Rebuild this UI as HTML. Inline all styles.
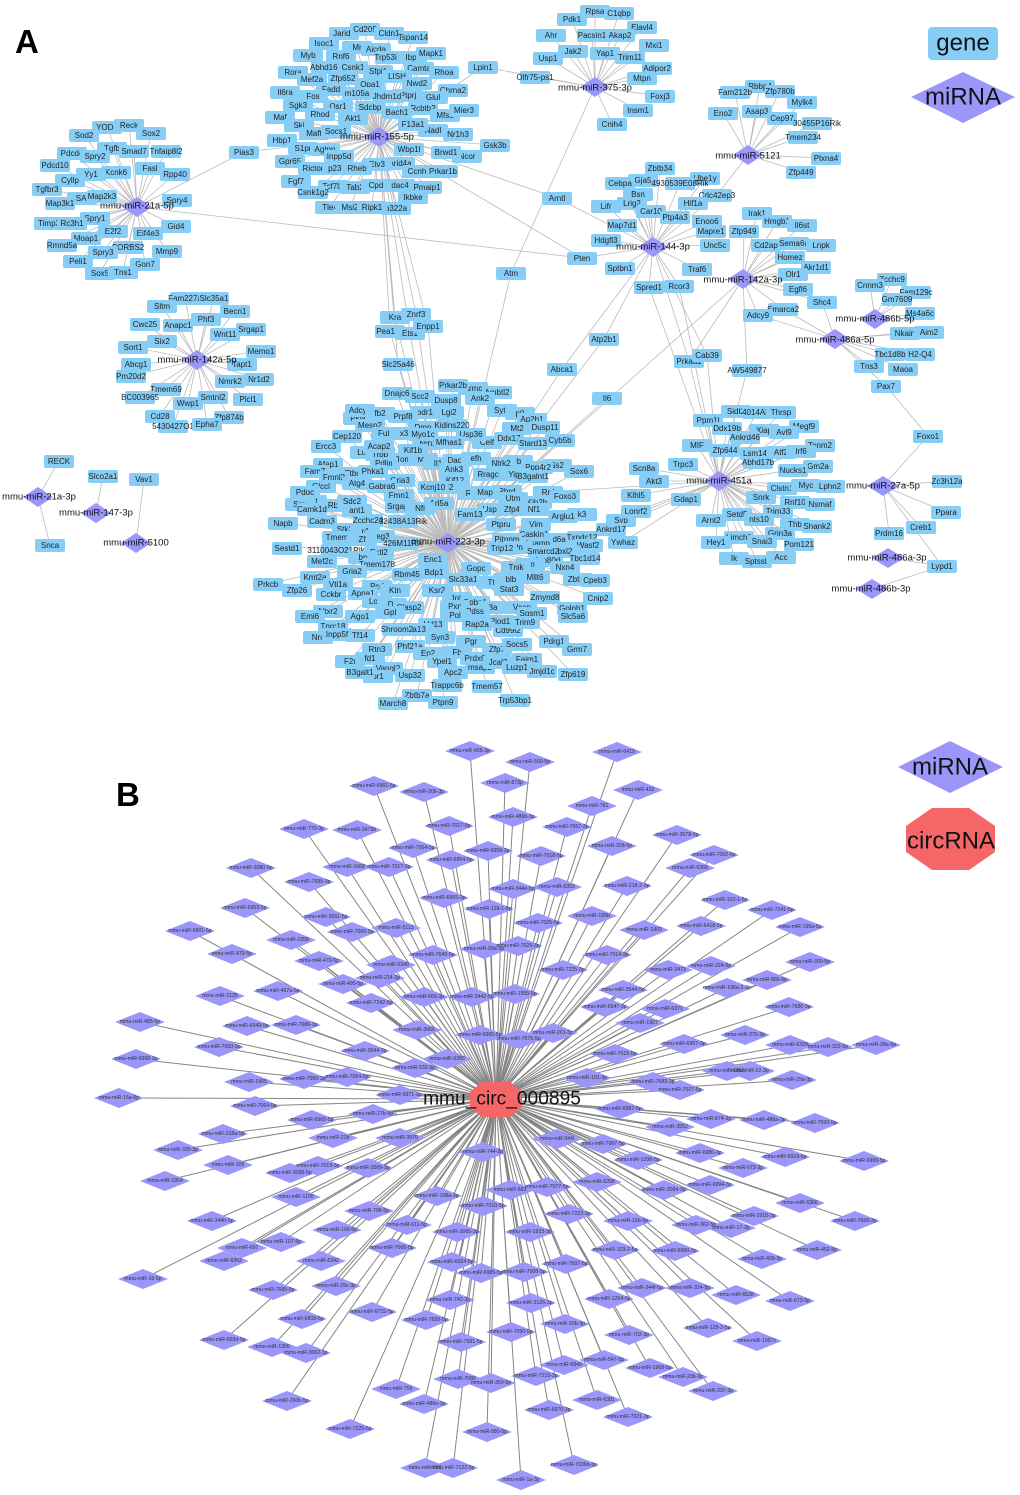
<!DOCTYPE html>
<html><head><meta charset="utf-8"><style>
html,body{margin:0;padding:0;background:#fff}
#p{position:relative;width:1020px;height:1495px;overflow:hidden;font-family:"Liberation Sans",sans-serif}
svg{position:absolute;left:0;top:0}
i{position:absolute;display:flex;justify-content:center;width:30px;height:13px;margin:-6.5px 0 0 -15px;background:#87cef7;border-radius:2px;font:normal 8px/13px "Liberation Sans",sans-serif;color:#222;white-space:nowrap}
.l{fill:none;stroke:#bbb;stroke-width:.8}
.b{fill:none;stroke:#858585;stroke-width:1;marker-start:url(#d);marker-mid:url(#d);marker-end:url(#d)}
.t text{font:5.2px "Liberation Sans",sans-serif;fill:#333;text-anchor:middle;dominant-baseline:central}
.h text{font:9.5px "Liberation Sans",sans-serif;fill:#111;text-anchor:middle;dominant-baseline:central}
</style></head><body><div id="p">
<svg width="1020" height="1495"><g class="l">
<path d="M137 207L107 127ZL129 125ZL84 135ZL151 133ZL112 148ZL134 151ZL166 151ZL72 153ZL95 156ZL55 165ZL116 172ZL150 168ZL175 174ZL91 174ZL70 180ZL47 189ZL102 196ZL82 198ZL60 203ZL177 200ZL95 218ZL49 223ZL72 223ZL176 226ZL148 233ZL86 238ZL113 231ZL62 245ZL128 247ZL167 251ZL103 252ZL78 261ZL145 264ZL100 273ZL123 272ZL244 152ZL582 258Z"/>
<path d="M197 360L185 298ZL214 298ZL162 306ZL235 311ZL206 319ZL145 324ZL178 325ZL225 334ZL251 329ZL162 341ZL133 347ZL261 351ZL242 364ZL136 364ZL131 376ZL259 379ZL230 381ZL166 389ZL140 397ZL248 399ZL188 403ZL213 397ZL160 416ZL229 417ZL173 426ZL207 424Z"/>
<path d="M38 497L59 461ZL50 545ZM96 513L103 476ZM136 543L144 479Z"/>
<path d="M379 137L344 33ZL365 29ZL389 33ZL413 37ZL324 43ZL357 47ZL376 49ZL308 55ZL341 56ZL390 57ZL412 57ZL431 53ZL293 72ZL326 67ZL353 67ZL378 71ZL419 68ZL444 72ZL312 79ZL343 78ZL397 76ZL417 83ZL331 89ZL370 84ZL453 90ZL285 92ZL313 96ZL357 93ZL387 96ZL408 95ZL433 97ZL298 105ZL338 106ZL370 107ZL423 108ZL397 112ZL464 110ZL280 117ZL320 114ZL445 115ZL353 118ZL413 124ZL299 125ZL336 131ZL314 133ZL433 130ZL458 134ZL282 140ZL303 148ZL325 149ZL409 149ZL339 156ZL495 145ZL446 152ZL467 156ZL290 161ZL377 164ZL400 163ZL313 168ZL337 168ZL357 168ZL417 171ZL443 171ZL296 181ZL333 186ZL355 187ZL376 185ZL400 185ZL427 187ZL313 192ZL413 197ZL330 207ZL350 207ZL372 207ZL396 208ZL483 67ZL244 152ZL582 258ZL557 198ZL395 317ZL416 314ZL390 331ZL410 333ZL428 326ZL398 364Z"/>
<path d="M448 543L395 317ZL416 314ZL390 331ZL410 333ZL428 326ZL398 364ZL511 273ZL604 339ZL562 369ZL607 398ZL743 279ZL453 385ZL473 388ZL497 392ZL397 393ZL420 396ZL480 398ZL446 400ZL360 410ZL380 413ZL403 416ZL425 412ZL449 412ZL502 410ZL358 418ZL520 413ZL532 419ZL452 425ZL370 425ZL545 427ZL517 428ZL423 427ZL509 438ZL347 436ZL386 433ZL404 433ZL423 434ZL471 434ZL533 443ZL560 440ZL449 442ZL487 442ZL428 443ZL326 446ZL379 446ZL413 450ZL365 452ZL380 454ZL457 460ZL476 458ZL501 463ZL518 461ZL538 467ZL557 465ZL579 471ZL328 464ZL315 471ZL355 473ZL385 463ZL407 459ZL423 459ZL438 463ZL454 469ZL488 474ZL515 474ZL533 476ZL373 471ZL334 477ZL455 480ZL357 483ZL400 480ZL321 486ZL382 486ZL433 487ZL450 487ZL305 492ZL472 493ZL485 492ZL507 491ZL548 492ZL399 495ZL513 498ZL352 501ZL312 501ZL439 503ZL565 496ZL537 502ZL300 504ZL333 505ZL400 506ZL420 508ZL312 509ZL357 510ZL492 509ZL512 509ZL534 509ZL563 516ZL582 514ZL470 514ZL283 523ZL322 521ZL368 520ZL501 524ZL536 524ZL403 521ZL347 529ZL365 531ZL337 537ZL534 534ZL380 536ZL507 539ZL582 537ZL559 539ZL588 545ZL538 543ZL362 539ZL287 548ZL336 550ZL403 543ZL502 548ZL518 547ZL543 551ZL565 551ZL379 552ZL585 558ZL433 559ZL322 561ZL548 560ZL363 557ZL516 567ZL530 564ZL565 567ZL377 564ZL476 568ZL352 571ZL315 577ZL434 572ZL407 574ZL508 579ZL535 577ZL463 579ZL578 579ZL595 580ZL338 584ZL377 586ZL437 590ZL509 589ZL491 582ZL598 598ZL297 590ZL331 594ZL363 593ZL395 590ZL545 597ZL457 598ZL475 602ZL377 601ZL392 604ZL409 607ZL572 608ZL532 613ZL360 616ZL310 616ZL455 606ZL475 611ZL493 607ZL573 616ZL522 607ZL500 621ZL525 622ZL455 615ZL390 612ZL477 624ZL508 630ZL433 624ZL333 626ZL328 611ZL337 634ZL318 637ZL360 635ZL397 629ZL418 629ZL440 637ZL554 641ZL577 649ZL517 644ZL471 641ZL377 649ZL410 646ZL497 649ZL350 661ZL370 658ZL442 661ZL428 653ZL457 652ZL475 658ZL498 662ZL527 659ZL542 671ZL517 667ZL573 674ZL360 672ZL388 668ZL378 676ZL410 675ZL453 672ZL480 667ZL487 686ZL447 685ZL417 695ZL515 700ZL443 702ZL393 703ZL268 584Z"/>
<path d="M595 87L595 11ZL619 13ZL642 27ZL572 19ZL551 35ZL592 35ZL620 35ZL654 45ZL548 58ZL573 51ZL605 53ZL630 57ZL657 68ZL535 77ZL642 78ZL660 96ZL638 110ZL612 124ZL483 67ZL511 273Z"/>
<path d="M748 155L760 86ZL735 92ZL780 91ZL802 102ZL757 111ZL782 118ZL723 113ZL817 123ZL803 137ZL826 158ZL801 172ZL717 195Z"/>
<path d="M653 247L660 168ZL643 180ZL620 183ZL680 183ZL705 178ZL638 194ZL717 195ZL606 206ZL632 203ZL651 211ZL693 203ZL675 217ZL707 221ZL622 225ZL711 231ZL606 240ZL715 245ZL557 198ZL582 258ZL620 268ZL697 269ZL649 287ZL679 286ZL604 339ZL562 369ZL707 355ZL689 361Z"/>
<path d="M743 279L757 213ZL777 221ZL802 225ZL744 231ZL766 245ZL794 243ZL821 245ZL790 257ZL816 267ZL793 274ZL798 289ZL822 302ZL783 309ZL758 315ZL747 370ZL689 361Z"/>
<path d="M875 319L892 279ZL870 285ZL916 292ZL897 299ZL920 313ZM835 339L905 333ZL929 332ZL920 354ZL890 354ZL869 366ZL903 369ZL886 386ZL822 302ZL758 315ZL783 309Z"/>
<path d="M883 486L928 436ZL947 481ZL946 512ZL921 527ZL889 533ZL942 566ZM886 386L928 436ZM888 558L942 566ZM872 589L942 566Z"/>
<path d="M719 481L736 411ZL757 412ZL781 412ZL708 420ZL804 426ZL727 428ZL764 430ZL784 432ZL745 437ZL697 445ZL725 450ZL755 453ZL781 452ZL820 445ZL801 451ZL758 462ZL683 464ZL818 466ZL793 470ZL806 485ZL830 486ZL761 497ZL782 488ZL795 502ZL820 504ZL778 511ZL737 514ZL711 520ZL795 524ZL817 526ZL759 519ZL780 533ZL739 537ZL716 542ZL762 541ZL799 544ZL734 558ZL757 561ZL781 557ZL686 499ZL654 481ZL644 468ZL636 495ZL636 511ZL621 520ZL611 529ZL623 542ZL689 361ZL707 355ZL747 370ZL649 287ZL679 286ZL548 492Z"/>
</g></svg>
<i style=left:107px;top:127px>YOD1</i><i style=left:129px;top:125px>Reck</i><i style=left:84px;top:135px>Sod2</i><i style=left:151px;top:133px>Sox2</i><i style=left:112px;top:148px>Tgfb</i><i style=left:134px;top:151px>Smad7</i><i style=left:166px;top:151px>Tnfaip8l2</i><i style=left:72px;top:153px>Pdcd4</i><i style=left:95px;top:156px>Spry2</i><i style=left:55px;top:165px>Pdcd10</i><i style=left:116px;top:172px>Kcnk6</i><i style=left:150px;top:168px>Fasl</i><i style=left:175px;top:174px>Rpp40</i><i style=left:91px;top:174px>Yy1</i><i style=left:70px;top:180px>Cyllp</i><i style=left:47px;top:189px>Tgfbr3</i><i style=left:82px;top:198px>SAl</i><i style=left:102px;top:196px>Map2k3</i><i style=left:60px;top:203px>Map3k1</i><i style=left:177px;top:200px>Spry4</i><i style=left:95px;top:218px>Spry1</i><i style=left:49px;top:223px>Timp3</i><i style=left:72px;top:223px>Rc3h1</i><i style=left:176px;top:226px>Gid4</i><i style=left:148px;top:233px>Eif4e3</i><i style=left:86px;top:238px>Moap1</i><i style=left:113px;top:231px>E2f2</i><i style=left:62px;top:245px>Rmnd5a</i><i style=left:128px;top:247px>SORBS2</i><i style=left:167px;top:251px>Mmp9</i><i style=left:103px;top:252px>Spry3</i><i style=left:78px;top:261px>Peli1</i><i style=left:145px;top:264px>Gon7</i><i style=left:100px;top:273px>Sox5</i><i style=left:123px;top:272px>Tns1</i><i style=left:244px;top:152px>Pias3</i>
<i style=left:185px;top:298px>Fam227a</i><i style=left:214px;top:298px>Slc35a1</i><i style=left:162px;top:306px>Sltm</i><i style=left:235px;top:311px>Becn1</i><i style=left:206px;top:319px>Phf3</i><i style=left:145px;top:324px>Cwc25</i><i style=left:178px;top:325px>Anapc1</i><i style=left:225px;top:334px>Wnt11</i><i style=left:251px;top:329px>Srgap1</i><i style=left:162px;top:341px>Six2</i><i style=left:133px;top:347px>Sort1</i><i style=left:261px;top:351px>Memo1</i><i style=left:242px;top:364px>Tapt1</i><i style=left:136px;top:364px>Abcg1</i><i style=left:131px;top:376px>Pm20d2</i><i style=left:259px;top:379px>Nr1d2</i><i style=left:230px;top:381px>Nmrk2</i><i style=left:166px;top:389px>Tmem69</i><i style=left:140px;top:397px>BC003965</i><i style=left:248px;top:399px>Plcl1</i><i style=left:188px;top:403px>Wwp1</i><i style=left:213px;top:397px>Smtnl2</i><i style=left:160px;top:416px>Cd28</i><i style=left:229px;top:417px>Zfp874b</i><i style=left:173px;top:426px>5430427O1</i><i style=left:207px;top:424px>Epha7</i>
<i style=left:59px;top:461px>RECK</i><i style=left:103px;top:476px>Slco2a1</i><i style=left:144px;top:479px>Vav1</i><i style=left:50px;top:545px>Snca</i>
<i style=left:344px;top:33px>Jarid2</i><i style=left:365px;top:29px>Cd209</i><i style=left:389px;top:33px>Cldn1</i><i style=left:413px;top:37px>Tspan14</i><i style=left:324px;top:43px>Isoc1</i><i style=left:357px;top:47px>Mr</i><i style=left:376px;top:49px>Aicda</i><i style=left:308px;top:55px>Myb</i><i style=left:341px;top:56px>Rnf6</i><i style=left:390px;top:57px>Trp53inp</i><i style=left:412px;top:57px>Ibpl</i><i style=left:431px;top:53px>Mapk1</i><i style=left:293px;top:72px>Rora</i><i style=left:326px;top:67px>Abhd16a</i><i style=left:353px;top:67px>Csnk1</i><i style=left:378px;top:71px>Sfpi1</i><i style=left:419px;top:68px>Camta</i><i style=left:444px;top:72px>Rhoa</i><i style=left:312px;top:79px>Mef2a</i><i style=left:343px;top:78px>Zfp652</i><i style=left:397px;top:76px>LISH</i><i style=left:417px;top:83px>Nwd2</i><i style=left:453px;top:90px>Chrna2</i><i style=left:331px;top:89px>Fadd</i><i style=left:370px;top:84px>Opa1</i><i style=left:285px;top:92px>Il6ra</i><i style=left:313px;top:96px>Fos</i><i style=left:357px;top:93px>m105a</i><i style=left:408px;top:95px>Ptprj</i><i style=left:387px;top:96px>Jhdm1d</i><i style=left:433px;top:97px>Glul</i><i style=left:298px;top:105px>Sgk3</i><i style=left:338px;top:106px>Osr1</i><i style=left:370px;top:107px>Sdcbp</i><i style=left:423px;top:108px>Rcbtb2</i><i style=left:397px;top:112px>Bach1</i><i style=left:445px;top:115px>Mfsd</i><i style=left:464px;top:110px>Mier3</i><i style=left:280px;top:117px>Maf</i><i style=left:320px;top:114px>Rhod</i><i style=left:353px;top:118px>Akt1</i><i style=left:433px;top:130px>Nadl</i><i style=left:413px;top:124px>F13a1</i><i style=left:299px;top:125px>Ski</i><i style=left:314px;top:133px>Maft</i><i style=left:336px;top:131px>Socs1</i><i style=left:458px;top:134px>Nr1h3</i><i style=left:282px;top:140px>Hbp1</i><i style=left:303px;top:148px>S1pr</i><i style=left:325px;top:149px>Agtpn</i><i style=left:409px;top:149px>Wbp1l</i><i style=left:339px;top:156px>Inpp5d</i><i style=left:495px;top:145px>Gsk3b</i><i style=left:467px;top:156px>Ncor</i><i style=left:446px;top:152px>Brwd1</i><i style=left:290px;top:161px>Gpr65</i><i style=left:400px;top:163px>Arid4a</i><i style=left:377px;top:164px>Etv3</i><i style=left:313px;top:168px>Rictor</i><i style=left:337px;top:168px>p236</i><i style=left:357px;top:168px>Rheb</i><i style=left:417px;top:171px>Ccnh</i><i style=left:443px;top:171px>Prkar1b</i><i style=left:296px;top:181px>Fgf7</i><i style=left:333px;top:186px>Tcf7l2</i><i style=left:355px;top:187px>Tab2</i><i style=left:376px;top:185px>Cpd</i><i style=left:400px;top:185px>dac4</i><i style=left:427px;top:187px>Pmaip1</i><i style=left:313px;top:192px>Csnk1g2</i><i style=left:413px;top:197px>Ikbke</i><i style=left:330px;top:207px>Tle4</i><i style=left:350px;top:207px>Msi2</i><i style=left:396px;top:208px>p322a</i><i style=left:372px;top:207px>Ripk1</i><i style=left:483px;top:67px>Lpin1</i>
<i style=left:395px;top:317px>Kra</i><i style=left:416px;top:314px>Znrf3</i><i style=left:390px;top:331px>Pea15a</i><i style=left:410px;top:333px>Ets1</i><i style=left:428px;top:326px>Enpp1</i><i style=left:398px;top:364px>Slc25a46</i>
<i style=left:595px;top:11px>Rpsa</i><i style=left:619px;top:13px>C1qbp</i><i style=left:642px;top:27px>Elavl4</i><i style=left:572px;top:19px>Pdk1</i><i style=left:551px;top:35px>Ahr</i><i style=left:592px;top:35px>Pacsin1</i><i style=left:620px;top:35px>Akap2</i><i style=left:654px;top:45px>Mxi1</i><i style=left:548px;top:58px>Usp1</i><i style=left:573px;top:51px>Jak2</i><i style=left:605px;top:53px>Yap1</i><i style=left:630px;top:57px>Trim11</i><i style=left:657px;top:68px>Adipor2</i><i style=left:535px;top:77px>Olfr75-ps1</i><i style=left:642px;top:78px>Mtpn</i><i style=left:660px;top:96px>Foxj3</i><i style=left:638px;top:110px>Insm1</i><i style=left:612px;top:124px>Cnih4</i>
<i style=left:760px;top:86px>Rbbp4</i><i style=left:735px;top:92px>Fam212b</i><i style=left:780px;top:91px>Zfp780b</i><i style=left:802px;top:102px>Mylk4</i><i style=left:757px;top:111px>Asap3</i><i style=left:782px;top:118px>Cep97</i><i style=left:723px;top:113px>Eno2</i><i style=left:817px;top:123px>30455P16Rik</i><i style=left:803px;top:137px>Tmem234</i><i style=left:826px;top:158px>Plxna4</i><i style=left:801px;top:172px>Zfp449</i>
<i style=left:660px;top:168px>Zbtb34</i><i style=left:643px;top:180px>Gja5</i><i style=left:620px;top:183px>Cebpa</i><i style=left:705px;top:178px>Ube1y</i><i style=left:680px;top:183px>4930539E08Rik</i><i style=left:638px;top:194px>Bsn</i><i style=left:717px;top:195px>Cdc42ep3</i><i style=left:606px;top:206px>Lifr</i><i style=left:632px;top:203px>Lrig2</i><i style=left:651px;top:211px>Car10</i><i style=left:693px;top:203px>Hif1a</i><i style=left:675px;top:217px>Ptp4a3</i><i style=left:707px;top:221px>Enoo6</i><i style=left:622px;top:225px>Map7d1</i><i style=left:711px;top:231px>Mapre1</i><i style=left:606px;top:240px>Hdgfl3</i><i style=left:715px;top:245px>Unc5c</i><i style=left:557px;top:198px>Arntl</i><i style=left:582px;top:258px>Pten</i><i style=left:620px;top:268px>Sptbn1</i><i style=left:697px;top:269px>Traf6</i><i style=left:649px;top:287px>Spred1</i><i style=left:679px;top:286px>Rcor3</i><i style=left:511px;top:273px>Atm</i>
<i style=left:757px;top:213px>Irak1</i><i style=left:777px;top:221px>Hmgb1</i><i style=left:802px;top:225px>Il6st</i><i style=left:744px;top:231px>Zfp949</i><i style=left:766px;top:245px>Cd2ap</i><i style=left:794px;top:243px>Sema6a</i><i style=left:821px;top:245px>Lnpk</i><i style=left:790px;top:257px>Homez</i><i style=left:816px;top:267px>Akr1d1</i><i style=left:793px;top:274px>Olr1</i><i style=left:798px;top:289px>Egfl6</i><i style=left:822px;top:302px>Shc4</i><i style=left:783px;top:309px>Smarca2</i><i style=left:758px;top:315px>Adcy9</i><i style=left:747px;top:370px>AW549877</i>
<i style=left:892px;top:279px>Zcchc9</i><i style=left:870px;top:285px>Cnnm3</i><i style=left:916px;top:292px>Fam129c</i><i style=left:897px;top:299px>Gm7609</i><i style=left:920px;top:313px>Ms4a6c</i><i style=left:905px;top:333px>Nkain</i><i style=left:929px;top:332px>Aim2</i><i style=left:920px;top:354px>H2-Q4</i><i style=left:890px;top:354px>Tbc1d8b</i><i style=left:869px;top:366px>Tns3</i><i style=left:903px;top:369px>Maoa</i><i style=left:886px;top:386px>Pax7</i>
<i style=left:928px;top:436px>Foxo1</i><i style=left:947px;top:481px>Zc3h12a</i><i style=left:946px;top:512px>Ppara</i><i style=left:921px;top:527px>Creb1</i><i style=left:889px;top:533px>Prdm16</i><i style=left:942px;top:566px>Lypd1</i>
<i style=left:736px;top:411px>Sidt2</i><i style=left:757px;top:412px>4014Abt</i><i style=left:781px;top:412px>Thrsp</i><i style=left:708px;top:420px>Ppm1l</i><i style=left:804px;top:426px>Megf9</i><i style=left:727px;top:428px>Ddx19b</i><i style=left:764px;top:430px>Xiap</i><i style=left:784px;top:432px>Avl9</i><i style=left:745px;top:437px>Ankrd46</i><i style=left:697px;top:445px>MIF</i><i style=left:725px;top:450px>Zfp644</i><i style=left:755px;top:453px>Lsm14</i><i style=left:781px;top:452px>Atf2</i><i style=left:820px;top:445px>Tenm2</i><i style=left:801px;top:451px>Irf6</i><i style=left:758px;top:462px>Abhd17b</i><i style=left:683px;top:464px>Trpc3</i><i style=left:818px;top:466px>Gm2a</i><i style=left:793px;top:470px>Nucks1</i><i style=left:782px;top:488px>Clstn1</i><i style=left:806px;top:485px>Myc</i><i style=left:830px;top:486px>Lphn2</i><i style=left:761px;top:497px>Snrk</i><i style=left:795px;top:502px>Rnf10</i><i style=left:820px;top:504px>Nsmaf</i><i style=left:778px;top:511px>Trim33</i><i style=left:737px;top:514px>Setd5</i><i style=left:711px;top:520px>Arnt2</i><i style=left:759px;top:519px>nts10</i><i style=left:795px;top:524px>Thb</i><i style=left:817px;top:526px>Shank2</i><i style=left:780px;top:533px>Grin3a</i><i style=left:739px;top:537px>Limch1</i><i style=left:716px;top:542px>Hey1</i><i style=left:762px;top:541px>Snai3</i><i style=left:799px;top:544px>Pom121</i><i style=left:734px;top:558px>Ik</i><i style=left:757px;top:561px>Sptssb</i><i style=left:781px;top:557px>Acc</i><i style=left:686px;top:499px>Gdap1</i><i style=left:654px;top:481px>Akt3</i><i style=left:644px;top:468px>Scn8a</i><i style=left:636px;top:495px>Klhl5</i><i style=left:636px;top:511px>Lonrf2</i><i style=left:621px;top:520px>Syp</i><i style=left:611px;top:529px>Ankrd17</i><i style=left:623px;top:542px>Ywhaz</i><i style=left:689px;top:361px>Prkaa1</i><i style=left:707px;top:355px>Cab39</i><i style=left:562px;top:369px>Abca1</i><i style=left:604px;top:339px>Atp2b1</i><i style=left:607px;top:398px>Il6</i>
<i style=left:473px;top:388px>Armc</i><i style=left:497px;top:392px>Ambtl2</i><i style=left:453px;top:385px>Prkar2b</i><i style=left:420px;top:396px>Scc2</i><i style=left:397px;top:393px>Dnajc6</i><i style=left:480px;top:398px>Ank2</i><i style=left:446px;top:400px>Dusp8</i><i style=left:358px;top:418px>Pkia</i><i style=left:360px;top:410px>Adcy1</i><i style=left:380px;top:413px>fb2</i><i style=left:425px;top:412px>odr1</i><i style=left:403px;top:416px>Prpf8</i><i style=left:449px;top:412px>Lgi2</i><i style=left:502px;top:410px>Syt4</i><i style=left:520px;top:413px>p0</i><i style=left:532px;top:419px>Ap2b1</i><i style=left:423px;top:427px>Dmn</i><i style=left:370px;top:425px>Mesp2</i><i style=left:452px;top:425px>Kidins220</i><i style=left:517px;top:428px>Mt2</i><i style=left:545px;top:427px>Dusp11</i><i style=left:347px;top:436px>Cep120</i><i style=left:428px;top:443px>Nrn1</i><i style=left:386px;top:433px>Fut9</i><i style=left:404px;top:433px>x3</i><i style=left:423px;top:434px>Myo1c</i><i style=left:487px;top:442px>Celf</i><i style=left:471px;top:434px>Usp36</i><i style=left:509px;top:438px>Ddx17</i><i style=left:560px;top:440px>Cyb5b</i><i style=left:533px;top:443px>Stard13</i><i style=left:449px;top:442px>Mfhas1</i><i style=left:326px;top:446px>Ercc3</i><i style=left:365px;top:452px>Lum</i><i style=left:380px;top:454px>Trpp</i><i style=left:379px;top:446px>Acap2</i><i style=left:385px;top:463px>Pdlim</i><i style=left:407px;top:459px>Tomm</i><i style=left:423px;top:459px>Ma</i><i style=left:413px;top:450px>Kif1b</i><i style=left:438px;top:463px>Il1</i><i style=left:457px;top:460px>Dao1</i><i style=left:476px;top:458px>efh</i><i style=left:518px;top:461px>Ib</i><i style=left:501px;top:463px>Ntrk2</i><i style=left:557px;top:465px>Ss2</i><i style=left:538px;top:467px>Ppp4r2</i><i style=left:579px;top:471px>Sox6</i><i style=left:328px;top:464px>Afap1</i><i style=left:315px;top:471px>Fam7</i><i style=left:355px;top:473px>Ttbd2</i><i style=left:373px;top:471px>Phka1</i><i style=left:455px;top:480px>Kif12</i><i style=left:454px;top:469px>Ank3</i><i style=left:488px;top:474px>Rragc</i><i style=left:515px;top:474px>Yipf</i><i style=left:533px;top:476px>B3galnt1</i><i style=left:334px;top:477px>Fmnl2</i><i style=left:321px;top:486px>Glccl</i><i style=left:357px;top:483px>Atg4</i><i style=left:400px;top:480px>Gria3</i><i style=left:382px;top:486px>Gabra6</i><i style=left:450px;top:487px>I2</i><i style=left:433px;top:487px>Kcnj10</i><i style=left:305px;top:492px>Pdgc</i><i style=left:472px;top:493px>Rnf</i><i style=left:507px;top:491px>Pbrd</i><i style=left:485px;top:492px>Map</i><i style=left:548px;top:492px>Rnf</i><i style=left:399px;top:495px>Fmn1</i><i style=left:537px;top:502px>Kih2b</i><i style=left:513px;top:498px>Utm</i><i style=left:312px;top:501px>Itot</i><i style=left:300px;top:504px>Snx</i><i style=left:333px;top:505px>Rb</i><i style=left:352px;top:501px>Sdc2</i><i style=left:565px;top:496px>Foxo3</i><i style=left:439px;top:503px>Arl5a</i><i style=left:357px;top:510px>ant1</i><i style=left:312px;top:509px>Camk1d</i><i style=left:400px;top:506px>Srgap2</i><i style=left:420px;top:508px>Nfi</i><i style=left:492px;top:509px>Usp4</i><i style=left:512px;top:509px>Zfp4</i><i style=left:534px;top:509px>Nf1</i><i style=left:582px;top:514px>k3</i><i style=left:563px;top:516px>Arglu1</i><i style=left:470px;top:514px>Fam13</i><i style=left:283px;top:523px>Napb</i><i style=left:322px;top:521px>Cadm3</i><i style=left:368px;top:520px>Zcchc24</i><i style=left:403px;top:521px>32438A13Rik</i><i style=left:501px;top:524px>Ptpru</i><i style=left:536px;top:524px>Vim</i><i style=left:347px;top:529px>Stk39</i><i style=left:365px;top:531px>r4</i><i style=left:337px;top:537px>Tmem</i><i style=left:534px;top:534px>Caskin1</i><i style=left:380px;top:536px>Reg3</i><i style=left:507px;top:539px>Pitpnm</i><i style=left:559px;top:539px>d6a</i><i style=left:582px;top:537px>Txndc12</i><i style=left:538px;top:543px>Lsamp</i><i style=left:588px;top:545px>Wasf2</i><i style=left:362px;top:539px>Zf</i><i style=left:287px;top:548px>Sestd1</i><i style=left:403px;top:543px>426M11Rik</i><i style=left:336px;top:550px>3110043O21Rik</i><i style=left:518px;top:547px>Pn</i><i style=left:502px;top:548px>Trip12</i><i style=left:565px;top:551px>bxl2</i><i style=left:543px;top:551px>Smarcd2</i><i style=left:379px;top:552px>Extl2</i><i style=left:363px;top:557px>bp</i><i style=left:585px;top:558px>Tbc1d14</i><i style=left:548px;top:560px>Ino80d</i><i style=left:322px;top:561px>Mef2c</i><i style=left:433px;top:559px>Enc1</i><i style=left:530px;top:564px>Tn</i><i style=left:516px;top:567px>Tnik</i><i style=left:565px;top:567px>Nxn4</i><i style=left:377px;top:564px>Tmem178</i><i style=left:352px;top:571px>Gria2</i><i style=left:476px;top:568px>Gopc</i><i style=left:434px;top:572px>Bdp1</i><i style=left:315px;top:577px>Kmt2a</i><i style=left:407px;top:574px>Rbm45</i><i style=left:535px;top:577px>Mllt6</i><i style=left:508px;top:579px>Cblb</i><i style=left:463px;top:579px>Slc33a1</i><i style=left:578px;top:579px>Zbtb3</i><i style=left:595px;top:580px>Cpeb3</i><i style=left:268px;top:584px>Prkcb</i><i style=left:491px;top:582px>Tt</i><i style=left:338px;top:584px>Vti1a</i><i style=left:377px;top:586px>Pcd</i><i style=left:437px;top:590px>Ksr2</i><i style=left:395px;top:590px>Ktn</i><i style=left:509px;top:589px>Stat3</i><i style=left:297px;top:590px>Zfp26</i><i style=left:363px;top:593px>Apna1</i><i style=left:331px;top:594px>Cckbr</i><i style=left:598px;top:598px>Cnip2</i><i style=left:545px;top:597px>Zmynd8</i><i style=left:457px;top:598px>Jph</i><i style=left:377px;top:601px>Lonr</i><i style=left:392px;top:604px>Dr</i><i style=left:475px;top:602px>Gpbp1</i><i style=left:455px;top:606px>Pxn</i><i style=left:493px;top:607px>8a</i><i style=left:522px;top:607px>Vcan</i><i style=left:572px;top:608px>Golph1</i><i style=left:409px;top:607px>Clasp2</i><i style=left:328px;top:611px>Ntxr2</i><i style=left:390px;top:612px>Gpl</i><i style=left:475px;top:611px>Pdss</i><i style=left:532px;top:613px>Sgsm1</i><i style=left:455px;top:615px>Pol</i><i style=left:360px;top:616px>Ago1</i><i style=left:310px;top:616px>Emi6</i><i style=left:573px;top:616px>Slc5a6</i><i style=left:508px;top:630px>Cd99l2</i><i style=left:500px;top:621px>Plod1</i><i style=left:525px;top:622px>Trim9</i><i style=left:477px;top:624px>Rap2a</i><i style=left:433px;top:624px>Hd13</i><i style=left:333px;top:626px>Tnrc18</i><i style=left:360px;top:635px>Tf14</i><i style=left:318px;top:637px>Nrc</i><i style=left:337px;top:634px>Inpp5f</i><i style=left:418px;top:629px>Ia13</i><i style=left:397px;top:629px>Shroom2</i><i style=left:440px;top:637px>Syn3</i><i style=left:554px;top:641px>Pdrg1</i><i style=left:577px;top:649px>Grm7</i><i style=left:497px;top:649px>Zfp7</i><i style=left:517px;top:644px>Socs5</i><i style=left:471px;top:641px>Pgr</i><i style=left:377px;top:649px>Rtn3</i><i style=left:410px;top:646px>Phf21a</i><i style=left:428px;top:653px>Ep2</i><i style=left:457px;top:652px>Fb</i><i style=left:350px;top:661px>F2r</i><i style=left:370px;top:658px>fd1</i><i style=left:442px;top:661px>Ypel1</i><i style=left:527px;top:659px>Faim1</i><i style=left:480px;top:667px>msap2</i><i style=left:475px;top:658px>Prdx6</i><i style=left:498px;top:662px>Jcal3</i><i style=left:517px;top:667px>Luzp1</i><i style=left:542px;top:671px>Jmjd1c</i><i style=left:573px;top:674px>Zfp619</i><i style=left:388px;top:668px>Vangl2</i><i style=left:378px;top:676px>or1</i><i style=left:360px;top:672px>B3galt1</i><i style=left:410px;top:675px>Usp32</i><i style=left:453px;top:672px>Apc2</i><i style=left:487px;top:686px>Tmem57</i><i style=left:447px;top:685px>Trappc6b</i><i style=left:417px;top:695px>Zbtb7a</i><i style=left:515px;top:700px>Trp53bp1</i><i style=left:443px;top:702px>Ptpn9</i><i style=left:393px;top:703px>March8</i>
<svg width="1020" height="1495"><defs><marker id="d" markerUnits="userSpaceOnUse" markerWidth="50" markerHeight="20" refX="25" refY="10" overflow="visible"><path d="M0 10L25 0L50 10L25 20z" fill="#9a96fa" stroke="none"/></marker></defs>
<g fill="#9a96fa"><path d="M122 207L137 197L152 207L137 217zM364 137L379 127L394 137L379 147zM580 87L595 77L610 87L595 97zM733 155L748 145L763 155L748 165zM638 247L653 237L668 247L653 257zM728 279L743 269L758 279L743 289zM860 319L875 309L890 319L875 329zM820 339L835 329L850 339L835 349zM182 360L197 350L212 360L197 370zM704 481L719 471L734 481L719 491zM867 486L883 476L899 486L883 496zM433 543L448 533L463 543L448 553zM23 497L38 487L53 497L38 507zM81 513L96 503L111 513L96 523zM121 543L136 533L151 543L136 553zM872 558L888 548L904 558L888 568zM856 589L872 579L888 589L872 599z"/></g>
<g class="h"><text x="137" y="206">mmu-miR-21a-5p</text><text x="377" y="137">mmu-miR-155-5p</text><text x="595" y="88">mmu-miR-375-3p</text><text x="748" y="156">mmu-miR-5121</text><text x="653" y="247">mmu-miR-144-3p</text><text x="743" y="280">mmu-miR-142a-3p</text><text x="875" y="319">mmu-miR-486b-5p</text><text x="835" y="340">mmu-miR-486a-5p</text><text x="197" y="360">mmu-miR-142a-5p</text><text x="719" y="481">mmu-miR-451a</text><text x="883" y="486">mmu-miR-27a-5p</text><text x="887" y="558">mmu-miR-486a-3p</text><text x="871" y="589">mmu-miR-486b-3p</text><text x="448" y="542">mmu-miR-223-3p</text><text x="39" y="497">mmu-miR-21a-3p</text><text x="96" y="513">mmu-miR-147-3p</text><text x="136" y="543">mmu-miR-5100</text></g>
<path class="b" d="M496 1099L470 751ZL617 752ZL530 762ZL505 783ZL638 790ZL374 786ZL424 792ZL592 806ZL513 817ZL449 826ZL567 827ZL304 829ZL357 830ZL677 835ZL612 846ZL413 848ZL488 851ZL541 856ZL714 855ZL251 868ZL347 867ZL389 867ZL451 860ZL557 887ZL513 889ZL627 886ZL690 868ZL309 882ZL444 898ZL489 909ZL725 900ZL772 910ZL326 917ZL245 908ZL352 932ZL396 928ZL538 923ZL592 916ZL644 930ZL701 926ZL800 927ZL190 931ZL291 940ZL232 954ZL319 961ZL391 965ZL433 955ZL484 949ZL518 946ZL607 955ZL563 970ZL668 970ZL711 966ZL810 962ZL767 980ZL343 984ZL380 978ZL623 990ZL727 988ZL278 991ZL220 996ZL371 1003ZL424 997ZL472 997ZL515 994ZL665 1009ZL605 1007ZL789 1007ZL247 1026ZL296 1025ZL140 1022ZL640 1023ZL745 1035ZL417 1030ZL480 1035ZL519 1039ZL553 1033ZL828 1047ZL790 1045ZL876 1045ZL684 1044ZL219 1047ZL365 1051ZL615 1054ZL136 1059ZL447 1059ZL415 1068ZL587 1078ZL727 1071ZL750 1071ZL347 1077ZL304 1079ZL249 1082ZL653 1082ZL792 1080ZL680 1090ZL400 1095ZL119 1098ZL620 1109ZL711 1119ZL764 1120ZL815 1123ZL255 1106ZL373 1114ZL312 1120ZL223 1134ZL333 1138ZL400 1138ZL557 1139ZL670 1127ZL603 1144ZL785 1157ZL178 1150ZL228 1165ZL638 1160ZL700 1153ZL483 1152ZL318 1166ZL368 1168ZL743 1168ZL864 1161ZL290 1173ZL165 1181ZL597 1182ZL547 1187ZL510 1190ZL710 1185ZL664 1190ZL437 1196ZL296 1197ZL800 1203ZL483 1206ZL569 1214ZL628 1221ZL754 1216ZL855 1221ZL369 1211ZL407 1225ZL212 1221ZL696 1225ZL530 1232ZL457 1232ZL337 1230ZL731 1228ZL817 1250ZL281 1242ZL242 1248ZL392 1248ZL452 1262ZL615 1250ZL675 1251ZL762 1259ZL224 1261ZL321 1261ZL566 1264ZL336 1286ZL481 1273ZL524 1272ZL143 1279ZL642 1288ZL690 1288ZL736 1295ZL790 1301ZL273 1290ZL450 1300ZL531 1303ZL609 1299ZL708 1328ZL302 1319ZL372 1312ZL426 1320ZL565 1324ZL757 1341ZL629 1335ZL511 1332ZL224 1340ZL272 1347ZL461 1342ZL306 1353ZL650 1368ZL564 1365ZL604 1360ZL683 1377ZL536 1376ZL458 1379ZL491 1383ZL396 1389ZL713 1391ZL287 1401ZL424 1404ZL597 1400ZL549 1410ZL628 1417ZL350 1429ZL487 1432ZL425 1468ZL453 1468ZL574 1465ZL521 1480Z"/>
<path d="M482 1082H510L522 1092V1107L510 1117H482L470 1107V1092Z" fill="#f76666"/>
<g class="t">
<text x="470" y="751">mmu-miR-666-3p</text><text x="617" y="752">mmu-miR-6419</text><text x="530" y="762">mmu-miR-500-5p</text><text x="505" y="783">mmu-miR-873p</text><text x="638" y="790">mmu-miR-432</text><text x="374" y="786">mmu-miR-6961-5p</text><text x="424" y="792">mmu-miR-206-3p</text><text x="592" y="806">mmu-miR-761</text><text x="513" y="817">mmu-miR-486b-3p</text><text x="449" y="826">mmu-miR-7017-5p</text><text x="567" y="827">mmu-miR-7657-3p</text><text x="304" y="829">mmu-miR-770-3p</text><text x="357" y="830">mmu-miR-3473b</text><text x="677" y="835">mmu-miR-3078-5p</text><text x="612" y="846">mmu-miR-328-5p</text><text x="413" y="848">mmu-miR-7064-5p</text><text x="488" y="851">mmu-miR-6958-3p</text><text x="541" y="856">mmu-miR-7018-5p</text><text x="714" y="855">mmu-miR-7002-5p</text><text x="251" y="868">mmu-miR-3080-5p</text><text x="347" y="867">mmu-miR-1668</text><text x="389" y="867">mmu-miR-7017-3p</text><text x="451" y="860">mmu-miR-6954-5p</text><text x="557" y="887">mmu-miR-6353</text><text x="513" y="889">mmu-miR-344e-5p</text><text x="627" y="886">mmu-miR-218-2-3p</text><text x="690" y="868">mmu-miR-6369</text><text x="309" y="882">mmu-miR-7685-3p</text><text x="444" y="898">mmu-miR-6965-3p</text><text x="489" y="909">mmu-miR-128-1-5p</text><text x="725" y="900">mmu-miR-103-1-5p</text><text x="772" y="910">mmu-miR-7241-5p</text><text x="326" y="917">mmu-miR-3061-5p</text><text x="245" y="908">mmu-miR-6953-5p</text><text x="352" y="932">mmu-miR-7000-5p</text><text x="396" y="928">mmu-miR-5113</text><text x="538" y="923">mmu-miR-7025-5p</text><text x="592" y="916">mmu-miR-195b</text><text x="644" y="930">mmu-miR-1903</text><text x="701" y="926">mmu-miR-6418-5p</text><text x="800" y="927">mmu-miR-195a-5p</text><text x="190" y="931">mmu-miR-6901-5p</text><text x="291" y="940">mmu-miR-1958</text><text x="232" y="954">mmu-miR-879-5p</text><text x="319" y="961">mmu-miR-470-5p</text><text x="391" y="965">mmu-miR-6349</text><text x="433" y="955">mmu-miR-7649-5p</text><text x="484" y="949">mmu-miR-99a-5p</text><text x="518" y="946">mmu-miR-7029-3p</text><text x="607" y="955">mmu-miR-7014-3p</text><text x="563" y="970">mmu-miR-7225-3p</text><text x="668" y="970">mmu-miR-3473</text><text x="711" y="966">mmu-miR-224-5p</text><text x="810" y="962">mmu-miR-300-5p</text><text x="767" y="980">mmu-miR-886-5p</text><text x="343" y="984">mmu-miR-490-5p</text><text x="380" y="978">mmu-miR-214-3p</text><text x="623" y="990">mmu-miR-3544-5p</text><text x="727" y="988">mmu-miR-196a-2-3p</text><text x="278" y="991">mmu-miR-467a-5p</text><text x="220" y="996">mmu-miR-2135</text><text x="371" y="1003">mmu-miR-7242-5p</text><text x="424" y="997">mmu-miR-669-3p</text><text x="472" y="997">mmu-miR-3442-5p</text><text x="515" y="994">mmu-miR-1955-5p</text><text x="665" y="1009">mmu-miR-6371</text><text x="605" y="1007">mmu-miR-6947-3p</text><text x="789" y="1007">mmu-miR-7680-3p</text><text x="247" y="1026">mmu-miR-6949-5p</text><text x="296" y="1025">mmu-miR-7686-3p</text><text x="140" y="1022">mmu-miR-485-5p</text><text x="640" y="1023">mmu-miR-1907</text><text x="745" y="1035">mmu-miR-370-3p</text><text x="417" y="1030">mmu-miR-3966</text><text x="480" y="1035">mmu-miR-6965-5p</text><text x="519" y="1039">mmu-miR-7676-5p</text><text x="553" y="1033">mmu-miR-201-5p</text><text x="828" y="1047">mmu-miR-322-5p</text><text x="790" y="1045">mmu-miR-6339</text><text x="876" y="1045">mmu-miR-28a-5p</text><text x="684" y="1044">mmu-miR-6957-3p</text><text x="219" y="1047">mmu-miR-7650-3p</text><text x="365" y="1051">mmu-miR-3544-3p</text><text x="615" y="1054">mmu-miR-7015-5p</text><text x="136" y="1059">mmu-miR-6998-3p</text><text x="447" y="1059">mmu-miR-6386</text><text x="415" y="1068">mmu-miR-532-5p</text><text x="587" y="1078">mmu-miR-191-3p</text><text x="727" y="1071">mmu-miR-1956</text><text x="750" y="1071">mmu-miR-22-3p</text><text x="347" y="1077">mmu-miR-7054-5p</text><text x="304" y="1079">mmu-miR-7050-3p</text><text x="249" y="1082">mmu-miR-1905</text><text x="653" y="1082">mmu-miR-7683-3p</text><text x="792" y="1080">mmu-miR-29a-3p</text><text x="680" y="1090">mmu-miR-7027-5p</text><text x="400" y="1095">mmu-miR-6971-3p</text><text x="119" y="1098">mmu-miR-15a-5p</text><text x="620" y="1109">mmu-miR-6987-5p</text><text x="711" y="1119">mmu-miR-874-3p</text><text x="764" y="1120">mmu-miR-486a-3p</text><text x="815" y="1123">mmu-miR-7693-5p</text><text x="255" y="1106">mmu-miR-7064-5p</text><text x="373" y="1114">mmu-miR-27b-5p</text><text x="312" y="1120">mmu-miR-6900-5p</text><text x="223" y="1134">mmu-miR-218a-5p</text><text x="333" y="1138">mmu-miR-21b</text><text x="400" y="1138">mmu-miR-3970</text><text x="557" y="1139">mmu-miR-344i</text><text x="670" y="1127">mmu-miR-3552</text><text x="603" y="1144">mmu-miR-7067-5p</text><text x="785" y="1157">mmu-miR-6919-5p</text><text x="178" y="1150">mmu-miR-335-3p</text><text x="228" y="1165">mmu-miR-105</text><text x="638" y="1160">mmu-miR-1298-5p</text><text x="700" y="1153">mmu-miR-6980-3p</text><text x="483" y="1152">mmu-miR-744-3p</text><text x="318" y="1166">mmu-miR-7019-3p</text><text x="368" y="1168">mmu-miR-3569-3p</text><text x="743" y="1168">mmu-miR-673-3p</text><text x="864" y="1161">mmu-miR-6999-5p</text><text x="290" y="1173">mmu-miR-3098-5p</text><text x="165" y="1181">mmu-miR-1954</text><text x="597" y="1182">mmu-miR-6398</text><text x="547" y="1187">mmu-miR-7077-5p</text><text x="510" y="1190">mmu-miR-683</text><text x="710" y="1185">mmu-miR-6994-3p</text><text x="664" y="1190">mmu-miR-3084-3p</text><text x="437" y="1196">mmu-miR-108a-3p</text><text x="296" y="1197">mmu-miR-1190</text><text x="800" y="1203">mmu-miR-6366</text><text x="483" y="1206">mmu-miR-7010-5p</text><text x="569" y="1214">mmu-miR-7222-3p</text><text x="628" y="1221">mmu-miR-15b-5p</text><text x="754" y="1216">mmu-miR-2910-3p</text><text x="855" y="1221">mmu-miR-7658-3p</text><text x="369" y="1211">mmu-miR-708-5p</text><text x="407" y="1225">mmu-miR-611-5p</text><text x="212" y="1221">mmu-miR-344h-5p</text><text x="696" y="1225">mmu-miR-362-5p</text><text x="530" y="1232">mmu-miR-1933-3p</text><text x="457" y="1232">mmu-miR-3065-3p</text><text x="337" y="1230">mmu-miR-100-5p</text><text x="731" y="1228">mmu-miR-17-3p</text><text x="817" y="1250">mmu-miR-452-5p</text><text x="281" y="1242">mmu-miR-107-5p</text><text x="242" y="1248">mmu-miR-697</text><text x="392" y="1248">mmu-miR-7068-5p</text><text x="452" y="1262">mmu-miR-6924-5p</text><text x="615" y="1250">mmu-miR-103-2-5p</text><text x="675" y="1251">mmu-miR-6960-3p</text><text x="762" y="1259">mmu-miR-409-3p</text><text x="224" y="1261">mmu-miR-6362</text><text x="321" y="1261">mmu-miR-6342</text><text x="566" y="1264">mmu-miR-7697-5p</text><text x="336" y="1286">mmu-miR-29c-3p</text><text x="481" y="1273">mmu-miR-6985-5p</text><text x="524" y="1272">mmu-miR-7008-5p</text><text x="143" y="1279">mmu-miR-16-5p</text><text x="642" y="1288">mmu-miR-344f-5p</text><text x="690" y="1288">mmu-miR-324-5p</text><text x="736" y="1295">mmu-miR-6538</text><text x="790" y="1301">mmu-miR-673-5p</text><text x="273" y="1290">mmu-miR-7685-5p</text><text x="450" y="1300">mmu-miR-742-3p</text><text x="531" y="1303">mmu-miR-3125-3p</text><text x="609" y="1299">mmu-miR-1264-5p</text><text x="708" y="1328">mmu-miR-128-2-5p</text><text x="302" y="1319">mmu-miR-6908-5p</text><text x="372" y="1312">mmu-miR-6715-5p</text><text x="426" y="1320">mmu-miR-7650-5p</text><text x="565" y="1324">mmu-miR-20b-3p</text><text x="757" y="1341">mmu-miR-1957c</text><text x="629" y="1335">mmu-miR-702-3p</text><text x="511" y="1332">mmu-miR-7090-5p</text><text x="224" y="1340">mmu-miR-669d-5p</text><text x="272" y="1347">mmu-miR-1306</text><text x="461" y="1342">mmu-miR-7091-5p</text><text x="306" y="1353">mmu-miR-3062-3p</text><text x="650" y="1368">mmu-miR-1968-5p</text><text x="564" y="1365">mmu-miR-6849</text><text x="604" y="1360">mmu-miR-547-5p</text><text x="683" y="1377">mmu-miR-29b-3p</text><text x="536" y="1376">mmu-miR-7215-3p</text><text x="458" y="1379">mmu-miR-7086</text><text x="491" y="1383">mmu-miR-350-5p</text><text x="396" y="1389">mmu-miR-759</text><text x="713" y="1391">mmu-miR-337-3p</text><text x="287" y="1401">mmu-miR-260b-5p</text><text x="424" y="1404">mmu-miR-486n-3p</text><text x="597" y="1400">mmu-miR-6381</text><text x="549" y="1410">mmu-miR-6970-3p</text><text x="628" y="1417">mmu-miR-7021-3p</text><text x="350" y="1429">mmu-miR-7225-5p</text><text x="487" y="1432">mmu-miR-880-5p</text><text x="425" y="1468">mmu-miR-692</text><text x="453" y="1468">mmu-miR-7122-5p</text><text x="574" y="1465">mmu-miR-7036b-3p</text><text x="521" y="1480">mmu-miR-1a-3p</text>
</g>
<text x="502" y="1099" font-size="19.2" text-anchor="middle" dominant-baseline="central" fill="#111">mmu_circ_000895</text>
<rect x="928" y="27" width="70" height="33" rx="4" fill="#87cef7"/>
<text x="963" y="43" font-size="24" text-anchor="middle" dominant-baseline="central" fill="#111">gene</text>
<path d="M911 97L963 72L1015 97L963 123z" fill="#9a96fa"/>
<text x="963" y="97" font-size="24" text-anchor="middle" dominant-baseline="central" fill="#111">miRNA</text>
<path d="M898 767L950 741L1003 767L950 793z" fill="#9a96fa"/>
<text x="950" y="767" font-size="24" text-anchor="middle" dominant-baseline="central" fill="#111">miRNA</text>
<path d="M932 808H969L995 826V852L969 870H932L906 852V826Z" fill="#f76666"/>
<text x="951" y="841" font-size="24" text-anchor="middle" dominant-baseline="central" fill="#111">circRNA</text>
<text x="15" y="53" font-size="33" font-weight="bold" fill="#000">A</text>
<text x="116" y="806" font-size="33" font-weight="bold" fill="#000">B</text>
</svg>
</div></body></html>
